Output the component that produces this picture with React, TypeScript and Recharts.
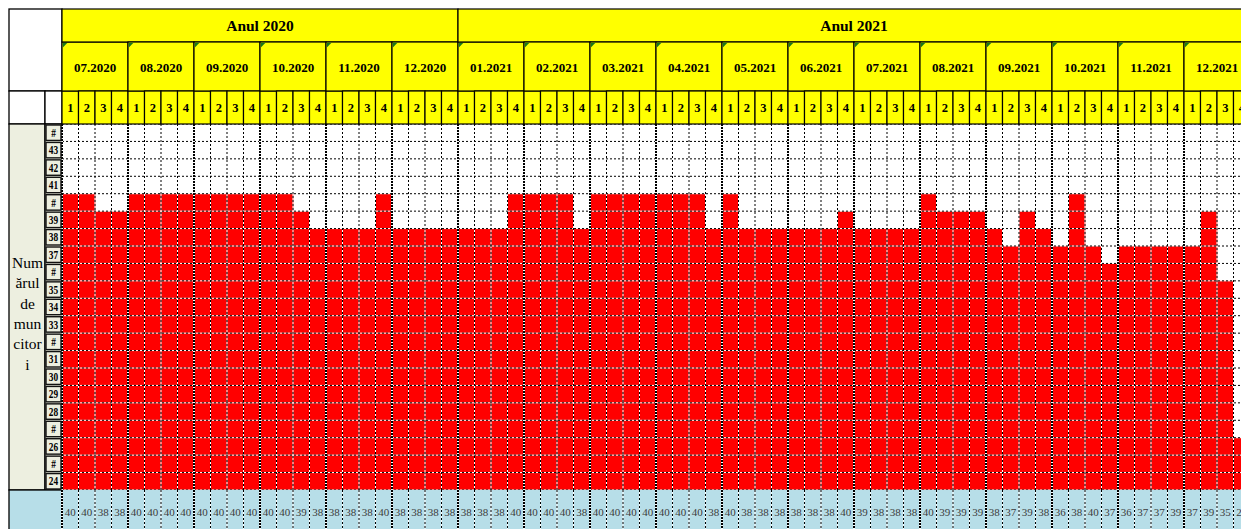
import React from 'react';
import { BarChart, Bar, XAxis, YAxis, CartesianGrid } from 'recharts';

// ---------- data ----------
const yearLabels = ['Anul 2020', 'Anul 2021'];
const yearMonthCounts = [6, 12];
const monthLabels = [
  '07.2020', '08.2020', '09.2020', '10.2020', '11.2020', '12.2020',
  '01.2021', '02.2021', '03.2021', '04.2021', '05.2021', '06.2021',
  '07.2021', '08.2021', '09.2021', '10.2021', '11.2021', '12.2021',
];
const weekLabels = ['1', '2', '3', '4'];

// height of the red fill in each weekly column (row reached)
const fillLevels = [
  40, 40, 39, 39, 40, 40, 40, 40, 40, 40, 40, 40, 40, 40, 39, 38, 38, 38, 38, 40, 38, 38, 38, 38,
  38, 38, 38, 40, 40, 40, 40, 38, 40, 40, 40, 40, 40, 40, 40, 38, 40, 38, 38, 38, 38, 38, 38, 39,
  38, 38, 38, 38, 40, 39, 39, 39, 38, 37, 39, 38, 37, 40, 37, 36, 37, 37, 37, 37, 37, 39, 35, 26,
];
// numbers written in the bottom row
const workerCounts = [
  40, 40, 38, 38, 40, 40, 40, 40, 40, 40, 40, 40, 40, 40, 39, 38, 38, 38, 38, 40, 38, 38, 38, 38,
  38, 38, 38, 40, 40, 40, 40, 38, 40, 40, 40, 40, 40, 40, 40, 38, 40, 38, 38, 38, 38, 38, 38, 40,
  39, 38, 38, 38, 40, 39, 39, 39, 38, 37, 39, 38, 36, 38, 40, 37, 36, 37, 37, 39, 37, 39, 35, 26,
];

const rowValues = [44, 43, 42, 41, 40, 39, 38, 37, 36, 35, 34, 33, 32, 31, 30, 29, 28, 27, 26, 25, 24];
const rowLabels = ['#', '43', '42', '41', '#', '39', '38', '37', '#', '35', '34', '33', '#', '31', '30', '29', '28', '#', '26', '#', '24'];
const axisTitleLines = ['Num', 'ărul', 'de', 'mun', 'citor', 'i'];

const data = fillLevels.map((level, i) => ({
  key: `${monthLabels[Math.floor(i / 4)]}-${weekLabels[i % 4]}`,
  level,
  count: workerCounts[i],
}));

// ---------- layout ----------
const FONT = "'Liberation Serif', 'Times New Roman', serif";
const YELLOW = '#FFFF00';
const RED = '#FF0000';
const BLUE = '#B7DEE8';
const BEIGE = '#EDEFE0';
const TOP = 9;
const LEFT = 9;
const PLOT_LEFT = 62;
const PLOT_TOP = 124;
const PLOT_BOTTOM = 490;
const COLS = fillLevels.length;
const CW = 16.5;
const CHART_W = PLOT_LEFT + COLS * CW;
const CHART_H = 529;
const ROW_H = (PLOT_BOTTOM - PLOT_TOP) / rowValues.length;
const Y_YEAR_TOP = 9;
const Y_MONTH_TOP = 42;
const Y_WEEK_TOP = 91;

const yearStarts: number[] = [];
{
  let acc = 0;
  yearMonthCounts.forEach((c) => {
    yearStarts.push(acc);
    acc += c * 4;
  });
}

function HeaderTick(props: any) {
  const { x, index } = props;
  if (x == null || index == null) return null;
  const left = x - CW / 2;
  const wk = index % 4;
  const mi = Math.floor(index / 4);
  const yi = yearStarts.indexOf(index);
  return (
    <g>
      <rect x={left} y={Y_WEEK_TOP} width={CW} height={PLOT_TOP - Y_WEEK_TOP} fill={YELLOW} stroke="#000" strokeWidth={1.2} />
      <text x={x} y={112} textAnchor="middle" fontFamily={FONT} fontWeight="bold" fontSize={12.5} fill="#000">
        {weekLabels[wk]}
      </text>
      {wk === 0 && (
        <g>
          <rect x={left} y={Y_MONTH_TOP} width={CW * 4} height={Y_WEEK_TOP - Y_MONTH_TOP} fill={YELLOW} stroke="#000" strokeWidth={1.2} />
          <polygon points={`${left + 0.8},${Y_MONTH_TOP + 0.8} ${left + 5.5},${Y_MONTH_TOP + 0.8} ${left + 0.8},${Y_MONTH_TOP + 5.5}`} fill="#1a7a1a" />
          <text x={left + CW * 2} y={72} textAnchor="middle" fontFamily={FONT} fontWeight="bold" fontSize={13} fill="#000">
            {monthLabels[mi]}
          </text>
        </g>
      )}
      {yi >= 0 && (
        <g>
          <rect x={left} y={Y_YEAR_TOP} width={CW * 4 * yearMonthCounts[yi]} height={Y_MONTH_TOP - Y_YEAR_TOP} fill={YELLOW} stroke="#000" strokeWidth={1.2} />
          <text x={left + (CW * 4 * yearMonthCounts[yi]) / 2} y={31} textAnchor="middle" fontFamily={FONT} fontWeight="bold" fontSize={15.5} fill="#000">
            {yearLabels[yi]}
          </text>
        </g>
      )}
    </g>
  );
}

function BottomTick(props: any) {
  const { x, index } = props;
  if (x == null || index == null) return null;
  const left = x - CW / 2;
  const isMonth = index % 4 === 0;
  return (
    <g>
      <rect x={left} y={PLOT_BOTTOM} width={CW} height={CHART_H - PLOT_BOTTOM + 5} fill={BLUE} />
      <line x1={left} x2={left} y1={PLOT_BOTTOM} y2={CHART_H} stroke="#fff" strokeWidth={isMonth ? 2 : 1} />
      <line x1={left} x2={left} y1={PLOT_BOTTOM} y2={CHART_H} stroke="#000" strokeWidth={isMonth ? 2 : 1} strokeDasharray={isMonth ? '2 1' : '2 2'} />
      <text x={x} y={516} textAnchor="middle" fontFamily={FONT} fontSize={11} fill="#3c3c3c">
        {workerCounts[index]}
      </text>
    </g>
  );
}

function RowTick(props: any) {
  const { y, payload } = props;
  if (y == null || !payload) return null;
  const idx = rowValues.indexOf(payload.value);
  if (idx < 0) return null;
  const cy = y + ROW_H / 2 + 4.2;
  return (
    <g>
      <rect x={46} y={y + 1} width={15} height={ROW_H - 2} fill={BEIGE} stroke="#111" strokeWidth={1.4} />
      <text transform={`translate(53.5,${cy}) scale(0.78,1)`} textAnchor="middle" fontFamily={FONT} fontWeight="bold" fontSize={12} fill="#000">
        {rowLabels[idx]}
      </text>
    </g>
  );
}

const colLines = (off: any, pick: (i: number) => boolean) => {
  const l = off && off.left != null ? off.left : PLOT_LEFT;
  const w = off && off.width != null ? off.width : COLS * CW;
  const out: number[] = [];
  for (let i = 0; i <= COLS; i++) if (pick(i)) out.push(l + (i * w) / COLS);
  return out;
};
const rowLines = (off: any) => {
  const t = off && off.top != null ? off.top : PLOT_TOP;
  const h = off && off.height != null ? off.height : PLOT_BOTTOM - PLOT_TOP;
  const out: number[] = [];
  for (let i = 0; i <= rowValues.length; i++) out.push(t + (i * h) / rowValues.length);
  return out;
};

export default function App() {
  return (
    <div style={{ position: 'absolute', left: 0, top: 0, width: 1241, height: 529, overflow: 'hidden', background: '#fff' }}>
      <svg width={1241} height={529} style={{ position: 'absolute', left: 0, top: 0 }}>
        <rect x={LEFT} y={TOP} width={PLOT_LEFT - LEFT} height={Y_WEEK_TOP - TOP} fill="#fff" stroke="#000" strokeWidth={1.3} />
        <rect x={LEFT} y={Y_WEEK_TOP} width={45 - LEFT} height={PLOT_TOP - Y_WEEK_TOP} fill="#fff" stroke="#000" strokeWidth={1.3} />
        <rect x={45} y={Y_WEEK_TOP} width={PLOT_LEFT - 45} height={PLOT_TOP - Y_WEEK_TOP} fill="#fff" stroke="#000" strokeWidth={1.3} />
        <rect x={LEFT} y={PLOT_TOP} width={45 - LEFT} height={PLOT_BOTTOM - PLOT_TOP} fill={BEIGE} stroke="#000" strokeWidth={1.3} />
        <rect x={45} y={PLOT_TOP} width={PLOT_LEFT - 45} height={PLOT_BOTTOM - PLOT_TOP} fill={BEIGE} stroke="#000" strokeWidth={1.3} />
        <rect x={LEFT} y={PLOT_BOTTOM} width={PLOT_LEFT - LEFT} height={50} fill={BLUE} stroke="#000" strokeWidth={1.3} />
        {axisTitleLines.map((t, i) => (
          <text key={t} x={27.5} y={268 + i * 20.3} textAnchor="middle" fontFamily={FONT} fontSize={15.5} fill="#000">
            {t}
          </text>
        ))}
      </svg>
      <div style={{ position: 'absolute', left: 0, top: 0 }}>
        <BarChart
          width={CHART_W}
          height={CHART_H}
          data={data}
          margin={{ top: TOP, left: LEFT, right: 0, bottom: 0 }}
          barCategoryGap={0}
          barGap={0}
        >
          <XAxis
            xAxisId="top"
            dataKey="key"
            orientation="top"
            height={PLOT_TOP - TOP}
            interval={0}
            axisLine={false}
            tickLine={false}
            tickSize={0}
            tick={(p: any) => <HeaderTick {...p} />}
          />
          <XAxis
            xAxisId="bottom"
            dataKey="key"
            orientation="bottom"
            height={CHART_H - PLOT_BOTTOM}
            interval={0}
            axisLine={false}
            tickLine={false}
            tickSize={0}
            tick={(p: any) => <BottomTick {...p} />}
          />
          <YAxis
            yAxisId="rows"
            type="number"
            domain={[23, 44]}
            ticks={rowValues}
            width={PLOT_LEFT - LEFT}
            interval={0}
            axisLine={false}
            tickLine={false}
            tickSize={0}
            tick={(p: any) => <RowTick {...p} />}
          />
          <Bar dataKey="level" xAxisId="bottom" yAxisId="rows" fill={RED} isAnimationActive={false} />
          <CartesianGrid
            xAxisId="bottom"
            yAxisId="rows"
            zIndex={600}
            stroke="#fff"
            strokeWidth={1}
            verticalCoordinatesGenerator={(a: any) => colLines(a && a.offset, (i) => i % 4 !== 0)}
            horizontalCoordinatesGenerator={(a: any) => rowLines(a && a.offset)}
          />
          <CartesianGrid
            xAxisId="bottom"
            yAxisId="rows"
            zIndex={601}
            stroke="#000"
            strokeWidth={1}
            strokeDasharray="2 2"
            verticalCoordinatesGenerator={(a: any) => colLines(a && a.offset, (i) => i % 4 !== 0)}
            horizontalCoordinatesGenerator={(a: any) => rowLines(a && a.offset)}
          />
          <CartesianGrid
            xAxisId="bottom"
            yAxisId="rows"
            zIndex={602}
            horizontal={false}
            stroke="#fff"
            strokeWidth={2}
            verticalCoordinatesGenerator={(a: any) => colLines(a && a.offset, (i) => i % 4 === 0)}
          />
          <CartesianGrid
            xAxisId="bottom"
            yAxisId="rows"
            zIndex={603}
            horizontal={false}
            stroke="#000"
            strokeWidth={2}
            strokeDasharray="2 1"
            verticalCoordinatesGenerator={(a: any) => colLines(a && a.offset, (i) => i % 4 === 0)}
          />
        </BarChart>
      </div>
    </div>
  );
}
